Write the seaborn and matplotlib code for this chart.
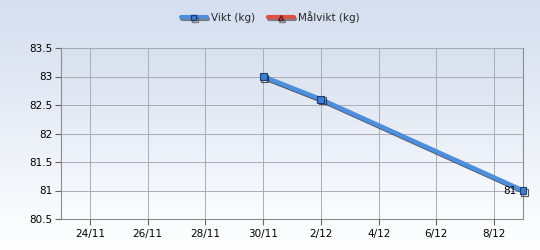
import numpy as np
import pandas as pd
import matplotlib
matplotlib.use("Agg")
import matplotlib.pyplot as plt
import matplotlib.dates as mdates
import matplotlib.patheffects as pe
from matplotlib.lines import Line2D
import seaborn as sns

dates = ["2012-11-30", "2012-12-02", "2012-12-09"]
weights = [83.0, 82.6, 81.0]
series_names = ["Vikt (kg)", "Målvikt (kg)"]
y_ticks = [80.5, 81, 81.5, 82, 82.5, 83, 83.5]
y_tick_labels = ["80.5", "81", "81.5", "82", "82.5", "83", "83.5"]
x_ticks = ["2012-11-24", "2012-11-26", "2012-11-28", "2012-11-30",
           "2012-12-02", "2012-12-04", "2012-12-06", "2012-12-08"]
x_tick_labels = ["24/11", "26/11", "28/11", "30/11", "2/12", "4/12", "6/12", "8/12"]
x_range = ["2012-11-23", "2012-12-09"]

df = pd.DataFrame({"date": pd.to_datetime(dates), "weight": weights})

sns.set_style("white")
plt.rcParams["font.family"] = ["DejaVu Sans"]

fig = plt.figure(figsize=(5.4, 2.5), dpi=100)

# figure background gradient
bg = fig.add_axes([0, 0, 1, 1], zorder=-10)
grad = np.linspace(0, 1, 256).reshape(-1, 1)
top = np.array([0.831, 0.871, 0.937])
bot = np.array([1.0, 1.0, 1.0])
img = top[None, None, :] * (1 - grad[:, :, None]) + bot[None, None, :] * grad[:, :, None]
bg.imshow(img, aspect="auto", extent=[0, 1, 0, 1])
bg.axis("off")

ax = fig.add_axes([61 / 540, 1 - 219 / 250, (523 - 61) / 540, (219 - 48) / 250])
ax.set_facecolor("none")
ptop = np.array([0.843, 0.878, 0.933])
pbot = np.array([0.985, 0.99, 1.0])
pimg = ptop[None, None, :] * (1 - grad[:, :, None]) + pbot[None, None, :] * grad[:, :, None]
ax.imshow(pimg, aspect="auto", extent=[0, 1, 0, 1], transform=ax.transAxes, zorder=0)

blue = "#4a8fe0"
red = "#e05040"
shadow = [pe.SimpleLineShadow(offset=(1.2, -1.2), shadow_color="#222222", alpha=0.75), pe.Normal()]
sns.lineplot(data=df, x="date", y="weight", ax=ax, color=blue, lw=3.2,
             marker="s", markersize=5, markerfacecolor="#3d7fd6",
             markeredgecolor="#1d3f70", markeredgewidth=0.8, zorder=5,
             clip_on=False, path_effects=shadow)

ax.annotate("81", (mdates.date2num(df["date"].iloc[-1]), weights[-1]), xytext=(-5, 0),
            textcoords="offset points", ha="right", va="center", fontsize=7.5, color="black", zorder=6)

ax.set_xlim(mdates.date2num(pd.to_datetime(x_range[0])), mdates.date2num(pd.to_datetime(x_range[1])))
ax.set_ylim(80.5, 83.5)
ax.set_yticks(y_ticks)
ax.set_yticklabels(y_tick_labels)
ax.set_xticks([mdates.date2num(pd.to_datetime(d)) for d in x_ticks])
ax.set_xticklabels(x_tick_labels)
ax.set_xlabel("")
ax.set_ylabel("")
ax.grid(True, color="#a8adb8", lw=0.7, zorder=1)
ax.set_axisbelow(False)
for s in ax.spines.values():
    s.set_color("#8c8c8c")
    s.set_linewidth(0.8)
ax.tick_params(axis="both", which="major", length=4, width=0.8, color="#666666",
               labelsize=7.5, labelcolor="#000000", direction="out", bottom=True, left=True)
ax.tick_params(axis="x", pad=3)
ax.tick_params(axis="y", pad=2)
for gl in ax.get_xgridlines() + ax.get_ygridlines():
    gl.set_zorder(1)

# legend
lshadow = [pe.SimpleLineShadow(offset=(1, -1.5), shadow_color="#555555", alpha=0.7), pe.Normal()]
handles = [
    Line2D([0], [0], color=blue, lw=3, marker="s", markersize=4, markerfacecolor="#3d7fd6",
           markeredgecolor="#1d3f70", path_effects=lshadow),
    Line2D([0], [0], color=red, lw=3, marker="^", markersize=4, markerfacecolor="#c04040",
           markeredgecolor="#602020", path_effects=lshadow),
]
fig.legend(handles, series_names, loc="upper center", bbox_to_anchor=(0.5, 0.985), ncol=2,
           frameon=False, fontsize=7.5, handlelength=2.5, handletextpad=0.4, columnspacing=1.2,
           borderaxespad=0.3)

fig.savefig("out.png", dpi=100)
